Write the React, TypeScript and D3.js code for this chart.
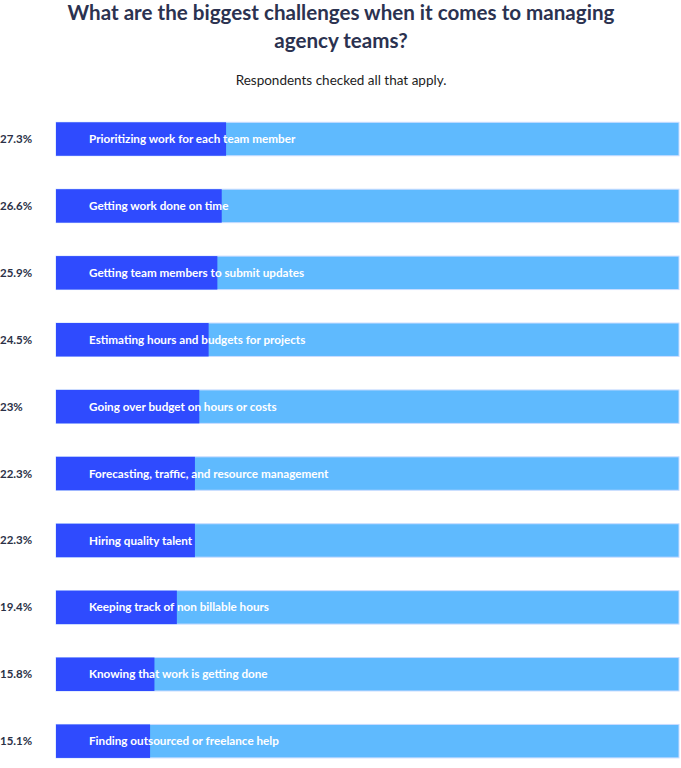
import React, { useRef, useEffect } from 'react';
import * as d3 from 'd3';

const challenges = [
  'Prioritizing work for each team member',
  'Getting work done on time',
  'Getting team members to submit updates',
  'Estimating hours and budgets for projects',
  'Going over budget on hours or costs',
  'Forecasting, traffic, and resource management',
  'Hiring quality talent',
  'Keeping track of non billable hours',
  'Knowing that work is getting done',
  'Finding outsourced or freelance help',
];

const shares = [27.3, 26.6, 25.9, 24.5, 23, 22.3, 22.3, 19.4, 15.8, 15.1];

const valueLabels = ['27.3%', '26.6%', '25.9%', '24.5%', '23%', '22.3%', '22.3%', '19.4%', '15.8%', '15.1%'];

const App = () => {
  const svgRef = useRef<SVGSVGElement>(null);
  const width = 681;
  const height = 768;
  const left = 56;
  const right = 679;

  useEffect(() => {
    const svg = d3.select(svgRef.current)
      .attr('width', width)
      .attr('height', height);
    svg.selectAll('*').remove();

    const rows = challenges.map((name, i) => ({ name, value: shares[i], label: valueLabels[i] }));

    const x = d3.scaleLinear()
      .domain([0, 100])
      .range([left, right]);

    const y = d3.scaleBand()
      .domain(challenges)
      .range([122.3, 757.9])
      .paddingInner(0.5)
      .paddingOuter(0);

    // title + subtitle
    const head = svg.append('g')
      .attr('font-family', 'Lato, sans-serif')
      .attr('text-anchor', 'middle');

    head.append('text')
      .attr('x', 341)
      .attr('y', 20)
      .attr('font-size', 20.6)
      .attr('font-weight', 700)
      .attr('fill', '#2b3250')
      .text('What are the biggest challenges when it comes to managing');

    head.append('text')
      .attr('x', 341)
      .attr('y', 48)
      .attr('font-size', 20.6)
      .attr('font-weight', 700)
      .attr('fill', '#2b3250')
      .text('agency teams?');

    head.append('text')
      .attr('x', 341)
      .attr('y', 85)
      .attr('font-size', 13.5)
      .attr('fill', '#1d1d1d')
      .text('Respondents checked all that apply.');

    const row = svg.append('g')
      .selectAll('g')
      .data(rows)
      .join('g')
      .attr('transform', d => `translate(0,${y(d.name)})`);

    // full track
    row.append('rect')
      .attr('x', x(0))
      .attr('width', x(100) - x(0))
      .attr('height', y.bandwidth())
      .attr('fill', '#5fbafe')
      .attr('stroke', '#c9dcff')
      .attr('stroke-width', 1);

    // share of respondents
    row.append('rect')
      .attr('x', x(0))
      .attr('width', d => x(d.value) - x(0))
      .attr('height', y.bandwidth())
      .attr('fill', '#2f4bfe');

    row.append('text')
      .attr('x', 89)
      .attr('y', y.bandwidth() / 2)
      .attr('dy', '0.35em')
      .attr('font-family', 'Lato, sans-serif')
      .attr('font-size', 11.7)
      .attr('font-weight', 700)
      .attr('fill', '#ffffff')
      .text(d => d.name);

    row.append('text')
      .attr('x', 0)
      .attr('y', y.bandwidth() / 2)
      .attr('dy', '0.35em')
      .attr('font-family', 'Lato, sans-serif')
      .attr('font-size', 11.5)
      .attr('font-weight', 700)
      .attr('fill', '#2b3147')
      .text(d => d.label);
  }, []);

  return (
    <svg ref={svgRef} style={{ position: 'absolute', left: 0, top: 0 }}></svg>
  );
};

export default App;
